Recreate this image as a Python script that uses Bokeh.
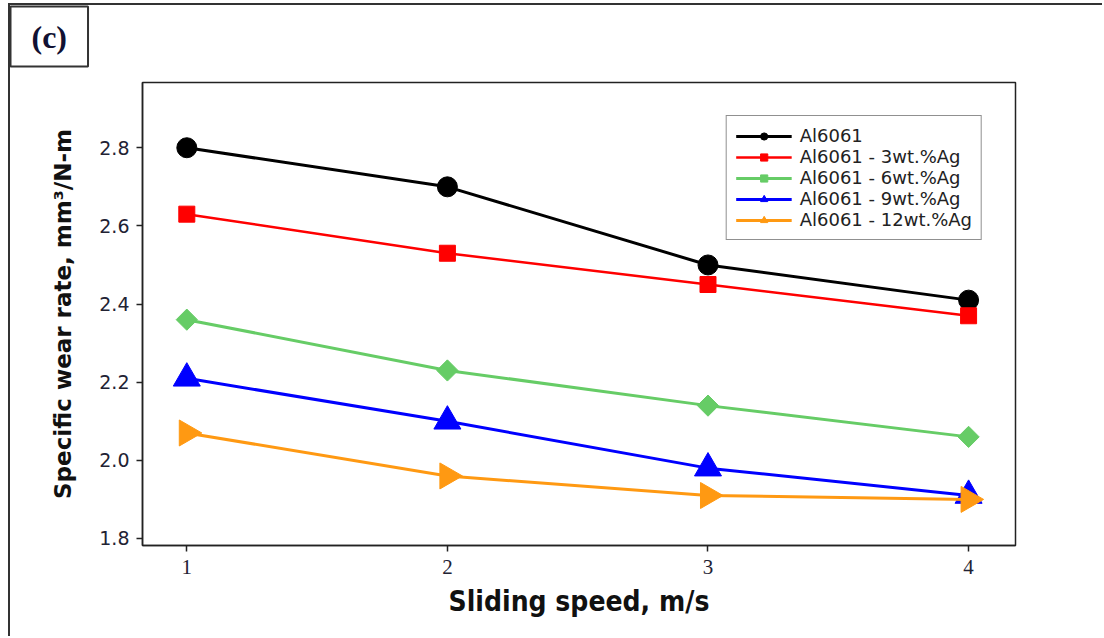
import math
from bokeh.plotting import figure
from bokeh.models import (ColumnDataSource, FixedTicker, Legend, LegendItem,
                          Range1d, PrintfTickFormatter, Title)
from bokeh.embed import file_html
from bokeh.resources import INLINE

# Sliding speed (m/s) and specific wear rate (mm^3/N-m)
speed = [1, 2, 3, 4]
al6061 = [2.80, 2.70, 2.50, 2.41]
ag3 = [2.63, 2.53, 2.45, 2.37]
ag6 = [2.36, 2.23, 2.14, 2.06]
ag9 = [2.21, 2.10, 1.98, 1.91]
ag12 = [2.07, 1.96, 1.91, 1.90]

series_names = ["Al6061", "Al6061 - 3wt.%Ag", "Al6061 - 6wt.%Ag",
                "Al6061 - 9wt.%Ag", "Al6061 - 12wt.%Ag"]
y_ticks = [1.8, 2.0, 2.2, 2.4, 2.6, 2.8]
x_ticks = [1, 2, 3, 4]

# the page is framed by a rule on the left and top edges
W, H = 1094, 633
p = figure(width=W, height=H, output_backend="svg", toolbar_location=None,
           x_range=Range1d(0.83, 4.18), y_range=Range1d(1.782, 2.967),
           min_border_left=132, min_border_right=89,
           min_border_top=77, min_border_bottom=93)
p.styles = {"border-left": "2px solid #333333", "border-top": "2px solid #333333",
            "margin-left": "8px", "margin-top": "3px"}
p.border_fill_color = "white"
p.background_fill_color = "white"
p.grid.visible = False
p.outline_line_color = "#222222"
p.outline_line_width = 1.5

# blank band between the frame and the panel tag
p.add_layout(Title(text="\u00a0", text_font_size="11px", standoff=0), "above")

# panel tag "(c)" in a boxed title at the top-left corner
p.title.text = "(c)"
p.title.align = "left"
p.title.vertical_align = "top"
p.title.text_font = "Liberation Serif"
p.title.text_font_style = "bold"
p.title.text_font_size = "32px"
p.title.text_color = "#111133"
p.title.border_line_color = "#333333"
p.title.border_line_width = 2
p.title.padding = {"left": 21, "right": 21, "top": 12, "bottom": 12}
p.title.offset = -132
p.title.standoff = 0

styles = [
    dict(color="black", marker="circle", size=20, angle=0.0, lw=3),
    dict(color="#ff0000", marker="square", size=16, angle=0.0, lw=2.5),
    dict(color="#66cc66", marker="square", size=15, angle=math.pi / 4, lw=3),
    dict(color="#0000ff", marker="triangle", size=27, angle=0.0, lw=3),
    dict(color="#ff9912", marker="triangle", size=26, angle=-math.pi / 2, lw=3),
]

items = []
for name, vals, st in zip(series_names, [al6061, ag3, ag6, ag9, ag12], styles):
    src = ColumnDataSource(dict(x=speed, y=vals))
    ln = p.line("x", "y", source=src, line_color=st["color"], line_width=st["lw"])
    sc = p.scatter("x", "y", source=src, marker=st["marker"], size=st["size"],
                   angle=st["angle"], fill_color=st["color"],
                   line_color=st["color"])
    items.append(LegendItem(label=name, renderers=[ln, sc]))

legend = Legend(items=items, location="top_right", margin=33)
legend.label_text_font = "DejaVu Sans"
legend.label_text_font_size = "18px"
legend.label_text_color = "#222222"
legend.glyph_width = 56
legend.glyph_height = 18
legend.spacing = 0
legend.padding = 9
legend.label_standoff = 8
legend.border_line_color = "#222222"
legend.border_line_width = 1.5
p.add_layout(legend)

# axes
p.xaxis.ticker = FixedTicker(ticks=x_ticks)
p.yaxis.ticker = FixedTicker(ticks=y_ticks)
p.yaxis.formatter = PrintfTickFormatter(format="%.1f")
for ax in (p.xaxis, p.yaxis):
    ax.axis_line_color = "#222222"
    ax.axis_line_width = 1.5
    ax.major_tick_line_color = "#222222"
    ax.major_tick_line_width = 1.5
    ax.major_tick_in = 0
    ax.major_tick_out = 6
    ax.minor_tick_line_color = None
    ax.major_label_text_color = "#222233"
    ax.axis_label_text_color = "#111111"
    ax.axis_label_text_font_style = "bold"

p.yaxis.major_label_text_font = "DejaVu Sans"
p.yaxis.major_label_text_font_size = "19px"
p.yaxis.major_label_standoff = 7
p.yaxis.axis_label = "Specific wear rate, mm³/N-m"
p.yaxis.axis_label_text_font = "DejaVu Sans"
p.yaxis.axis_label_text_font_size = "23px"
p.yaxis.axis_label_standoff = 20

p.xaxis.major_label_text_font = "Liberation Sans Narrow"
p.xaxis.major_label_text_font_size = "21px"
p.xaxis.major_label_standoff = 8
p.xaxis.axis_label = "Sliding speed, m/s"
p.xaxis.axis_label_text_font = "DejaVu Sans Condensed"
p.xaxis.axis_label_text_font_size = "28px"
p.xaxis.axis_label_standoff = 8

open("out.html", "w").write(file_html(p, INLINE))
